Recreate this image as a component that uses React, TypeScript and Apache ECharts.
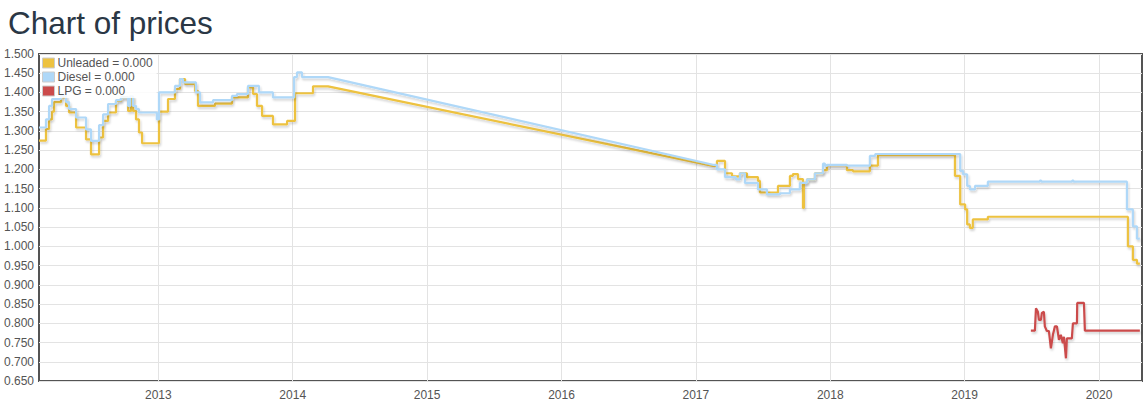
import React, { useEffect, useRef } from "react";
import * as echarts from "echarts";

// Decimal year, price (change points of the step series)
const unleadedPoints: [number, number][] = [
  [2012.112, 1.275], [2012.164, 1.305], [2012.187, 1.330], [2012.209, 1.350], [2012.224, 1.375],
  [2012.276, 1.387], [2012.313, 1.365], [2012.336, 1.348], [2012.388, 1.309], [2012.462, 1.278],
  [2012.499, 1.239], [2012.559, 1.283], [2012.589, 1.326], [2012.626, 1.348], [2012.685, 1.378],
  [2012.722, 1.387], [2012.775, 1.352], [2012.797, 1.387], [2012.812, 1.352], [2012.834, 1.330],
  [2012.856, 1.296], [2012.879, 1.268], [2013.005, 1.350], [2013.072, 1.383], [2013.124, 1.409],
  [2013.161, 1.435], [2013.199, 1.422], [2013.273, 1.404], [2013.295, 1.365], [2013.422, 1.371],
  [2013.548, 1.387], [2013.667, 1.413], [2013.705, 1.396], [2013.734, 1.365], [2013.772, 1.339],
  [2013.853, 1.317], [2013.958, 1.326], [2014.017, 1.398], [2014.151, 1.416], [2014.263, 1.416],
  [2017.127, 1.209], [2017.157, 1.222], [2017.217, 1.190], [2017.269, 1.182], [2017.328, 1.190],
  [2017.380, 1.180], [2017.462, 1.170], [2017.477, 1.140], [2017.611, 1.157], [2017.700, 1.183],
  [2017.722, 1.188], [2017.760, 1.175], [2017.797, 1.100], [2017.804, 1.165], [2017.827, 1.174],
  [2017.886, 1.190], [2017.946, 1.198], [2017.976, 1.211], [2018.124, 1.198], [2018.169, 1.195],
  [2018.295, 1.210], [2018.355, 1.237], [2018.928, 1.183], [2018.967, 1.109], [2019.004, 1.096],
  [2019.019, 1.057], [2019.039, 1.048], [2019.061, 1.070], [2019.173, 1.077], [2020.215, 1.000],
  [2020.252, 0.965], [2020.282, 0.955], [2020.304, 0.955],
];

const dieselPoints: [number, number][] = [
  [2012.112, 1.309], [2012.164, 1.330], [2012.187, 1.365], [2012.209, 1.383], [2012.276, 1.392],
  [2012.313, 1.375], [2012.336, 1.357], [2012.388, 1.335], [2012.462, 1.304], [2012.499, 1.274],
  [2012.559, 1.315], [2012.589, 1.343], [2012.626, 1.370], [2012.685, 1.380], [2012.722, 1.387],
  [2012.775, 1.365], [2012.790, 1.390], [2012.812, 1.365], [2012.834, 1.357], [2012.856, 1.348],
  [2012.989, 1.330], [2013.005, 1.400], [2013.124, 1.417], [2013.161, 1.435], [2013.183, 1.426],
  [2013.280, 1.400], [2013.310, 1.374], [2013.407, 1.380], [2013.548, 1.391], [2013.585, 1.396],
  [2013.667, 1.417], [2013.749, 1.400], [2013.853, 1.387], [2014.010, 1.440], [2014.032, 1.452],
  [2014.069, 1.440], [2014.263, 1.440],
  [2017.127, 1.212], [2017.157, 1.200], [2017.217, 1.180], [2017.298, 1.174], [2017.328, 1.190],
  [2017.365, 1.165], [2017.462, 1.148], [2017.529, 1.135], [2017.626, 1.138], [2017.700, 1.148],
  [2017.774, 1.165], [2017.827, 1.174], [2017.886, 1.190], [2017.946, 1.215], [2017.961, 1.209],
  [2017.976, 1.212], [2018.124, 1.210], [2018.295, 1.235], [2018.335, 1.240], [2018.967, 1.196],
  [2018.989, 1.187], [2019.019, 1.157], [2019.039, 1.148], [2019.077, 1.157], [2019.173, 1.168],
  [2019.560, 1.171], [2019.570, 1.168], [2019.800, 1.171], [2019.810, 1.168],
  [2020.208, 1.096], [2020.252, 1.052], [2020.282, 1.020], [2020.304, 1.020],
];

const lpgPoints: [number, number][] = [
  [2019.493, 0.781], [2019.523, 0.781], [2019.531, 0.839], [2019.545, 0.830], [2019.553, 0.809],
  [2019.568, 0.809], [2019.575, 0.827], [2019.590, 0.830], [2019.597, 0.792], [2019.612, 0.780],
  [2019.627, 0.780], [2019.642, 0.735], [2019.657, 0.770], [2019.672, 0.792], [2019.687, 0.792],
  [2019.702, 0.757], [2019.716, 0.770], [2019.731, 0.748], [2019.739, 0.765], [2019.754, 0.709],
  [2019.761, 0.761], [2019.798, 0.761], [2019.806, 0.800], [2019.836, 0.800], [2019.838, 0.853],
  [2019.888, 0.853], [2019.895, 0.781], [2020.304, 0.781],
];

const yearTicks = [2013, 2014, 2015, 2016, 2017, 2018, 2019, 2020];
const seriesNames = ["Unleaded", "Diesel", "LPG"];
const seriesColors = ["#edc240", "#afd8f8", "#cb4b4b"];

// hold each value until the next change point (straight line only across the long data gap)
function toSteps(pts: [number, number][]): [number, number][] {
  const out: [number, number][] = [];
  pts.forEach((p, i) => {
    if (i > 0) {
      const prev = pts[i - 1];
      if (p[0] - prev[0] < 2) out.push([p[0], prev[1]]);
    }
    out.push(p);
  });
  return out;
}

const FONT = "'Liberation Sans', Arial, sans-serif";

export default function App() {
  const ref = useRef<HTMLDivElement>(null);
  useEffect(() => {
    if (!ref.current) return;
    const chart = echarts.init(ref.current, undefined, { renderer: "svg" });
    const lineCommon = (color: string) => ({
      type: "line" as const,
      showSymbol: false,
      symbol: "none",
      lineStyle: {
        color,
        width: 2.2,
        shadowColor: "rgba(0,0,0,0.18)",
        shadowBlur: 2,
        shadowOffsetX: 1,
        shadowOffsetY: 2,
      },
      itemStyle: { color },
      emphasis: { disabled: true },
    });
    chart.setOption({
      animation: false,
      textStyle: { fontFamily: FONT },
      title: {
        text: "Chart of prices",
        left: 3,
        top: 2,
        textStyle: { fontSize: 31.5, fontWeight: "normal", color: "#2a3745", fontFamily: FONT },
      },
      legend: {
        orient: "vertical",
        left: 41,
        top: 56,
        padding: [1, 4, 1, 1],
        itemGap: 2,
        itemWidth: 12,
        itemHeight: 10,
        icon: "rect",
        backgroundColor: "rgba(255,255,255,0.85)",
        itemStyle: { borderColor: "#cccccc", borderWidth: 1 },
        textStyle: { color: "#545454", fontSize: 12, fontFamily: FONT, padding: [0, 0, 0, -2] },
        formatter: (name: string) => `${name} = 0.000`,
        data: seriesNames,
        selectedMode: false,
      },
      grid: {
        left: 39,
        right: 3,
        top: 54,
        bottom: 26,
        show: true,
        borderColor: "#545454",
        borderWidth: 2,
        backgroundColor: "transparent",
      },
      xAxis: {
        type: "value",
        min: 2012.112,
        max: 2020.32,
        axisLine: { show: false },
        axisTick: { show: false, customValues: yearTicks },
        axisLabel: {
          customValues: yearTicks,
          color: "#545454",
          fontSize: 12,
          margin: 8,
          formatter: (v: number) => String(Math.round(v)),
        },
        splitLine: { show: true, lineStyle: { color: "#e3e3e3", width: 1 } },
      },
      yAxis: {
        type: "value",
        min: 0.65,
        max: 1.5,
        interval: 0.05,
        axisLine: { show: false },
        axisTick: { show: false },
        axisLabel: {
          color: "#545454",
          fontSize: 12,
          margin: 5,
          formatter: (v: number) => v.toFixed(3),
        },
        splitLine: { show: true, lineStyle: { color: "#e3e3e3", width: 1 } },
      },
      series: [
        { name: seriesNames[0], ...lineCommon(seriesColors[0]), data: toSteps(unleadedPoints) },
        { name: seriesNames[1], ...lineCommon(seriesColors[1]), data: toSteps(dieselPoints) },
        { name: seriesNames[2], ...lineCommon(seriesColors[2]), data: lpgPoints },
      ],
    });
    return () => chart.dispose();
  }, []);
  return (
    <div
      ref={ref}
      style={{ position: "fixed", left: 0, top: 0, width: 1145, height: 407, background: "#fff" }}
    />
  );
}
